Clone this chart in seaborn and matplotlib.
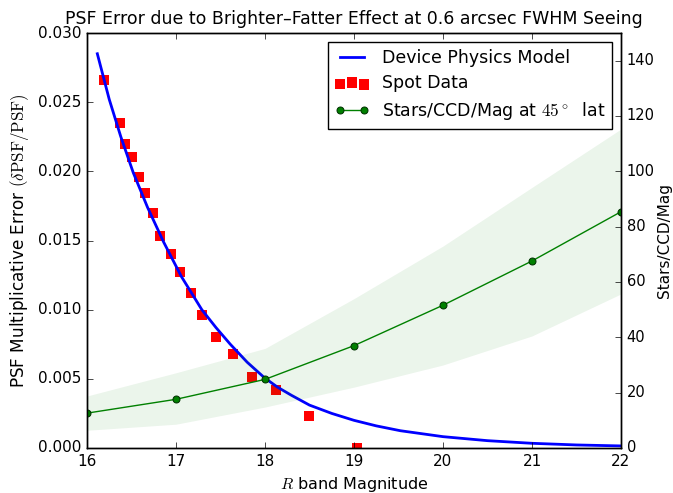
import matplotlib
matplotlib.use("Agg")
import matplotlib.pyplot as plt
import seaborn as sns
import pandas as pd

# ---- data ----
model_mag = [16.116, 16.25, 16.38, 16.52, 16.68, 16.86, 17.06, 17.29, 17.45,
             17.61, 17.80, 17.99, 18.14, 18.30, 18.50, 18.75, 19.00, 19.25,
             19.52, 20.0, 20.5, 21.0, 21.5, 22.0]
model_err = [0.0285, 0.0252, 0.0225, 0.0199, 0.0174, 0.0149, 0.0124, 0.0100, 0.0087,
             0.0075, 0.0062, 0.0051, 0.0044, 0.0038, 0.0031, 0.0025, 0.0020, 0.0016,
             0.00125, 0.00082, 0.00053, 0.00034, 0.00022, 0.00015]

spot_mag = [16.19, 16.37, 16.43, 16.51, 16.58, 16.65, 16.74, 16.82, 16.94,
            17.04, 17.17, 17.29, 17.45, 17.64, 17.85, 18.12, 18.49, 19.03]
spot_err = [0.0266, 0.0235, 0.0220, 0.0210, 0.0196, 0.0184, 0.0170, 0.0153,
            0.0140, 0.0127, 0.0112, 0.0096, 0.0080, 0.0068, 0.0051, 0.0042,
            0.0023, 0.0]

star_mag = [16, 17, 18, 19, 20, 21, 22]
star_cnt = [12.6, 17.6, 24.8, 37.0, 51.6, 67.6, 85.4]
star_lo = [6.4, 8.6, 14.8, 22.0, 30.0, 40.5, 55.7]
star_hi = [18.8, 27.2, 36.0, 54.0, 73.0, 94.2, 115.3]

xticks = [16, 17, 18, 19, 20, 21, 22]
yticks_left = [0.000, 0.005, 0.010, 0.015, 0.020, 0.025, 0.030]
yticks_right = [0, 20, 40, 60, 80, 100, 120, 140]

plt.style.use("classic")
plt.rcParams["font.family"] = ["DejaVu Sans"]
plt.rcParams["mathtext.fontset"] = "cm"

fig = plt.figure(figsize=(6.73, 4.93), dpi=100, facecolor="white")
ax = fig.add_axes([87 / 673, 45 / 493, 534 / 673, 415 / 493])

model_df = pd.DataFrame({"mag": model_mag, "err": model_err})
spot_df = pd.DataFrame({"mag": spot_mag, "err": spot_err})
star_df = pd.DataFrame({"mag": star_mag, "cnt": star_cnt})

sns.lineplot(data=model_df, x="mag", y="err", ax=ax, color="#0000ff", lw=2,
             label="Device Physics Model", legend=False)
sns.scatterplot(data=spot_df, x="mag", y="err", ax=ax, color="#ff0000", marker="s",
                s=55, linewidth=0, label="Spot Data", legend=False)

ax.set_xlim(16, 22)
ax.set_ylim(0, 0.030)
ax.set_xticks(xticks)
ax.set_yticks(yticks_left)
ax.set_yticklabels([f"{v:.3f}" for v in yticks_left])
ax.set_xlabel("$R$ band Magnitude", fontsize=11.5)
ax.set_ylabel(r"PSF Multiplicative Error $(\delta\mathrm{PSF}/\mathrm{PSF})$", fontsize=12.2)
ax.set_title("PSF Error due to Brighter\u2013Fatter Effect at 0.6 arcsec FWHM Seeing",
             fontsize=12.5, pad=6.5)
ax.tick_params(labelsize=11)

ax2 = ax.twinx()
ax2.fill_between(star_mag, star_lo, star_hi, color="green", alpha=0.08, lw=0)
sns.lineplot(data=star_df, x="mag", y="cnt", ax=ax2, color="#008000", lw=1,
             marker="o", markersize=5, markeredgecolor="#003300",
             label="Stars/CCD/Mag at $45^\\circ$  lat", legend=False)
ax2.set_ylim(0, 150)
ax2.set_yticks(yticks_right)
ax2.set_ylabel("Stars/CCD/Mag", fontsize=11, labelpad=2)
ax2.tick_params(labelsize=10.5)
ax2.set_xlim(16, 22)

h1, l1 = ax.get_legend_handles_labels()
h2, l2 = ax2.get_legend_handles_labels()
leg = ax2.legend(h1 + h2, l1 + l2, loc="upper right", fontsize=12.5,
                 scatterpoints=3, numpoints=2, handlelength=2.0,
                 handletextpad=0.7, labelspacing=0.45)
leg.get_frame().set_edgecolor("black")

fig.savefig("out.png", dpi=100, facecolor="white")
